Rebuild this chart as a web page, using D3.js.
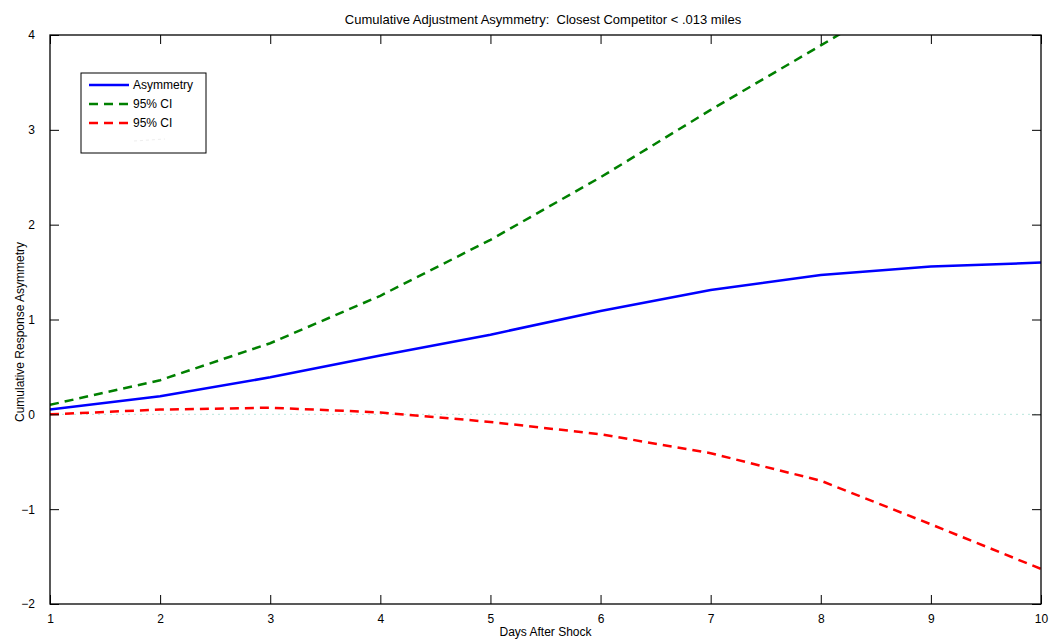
<!DOCTYPE html>
<html>
<head>
<meta charset="utf-8">
<script src="https://cdn.jsdelivr.net/npm/d3@7"></script>
<style>
  body { margin: 0; background: #fff; }
  svg { font-family: "Liberation Sans", Arial, sans-serif; }
  .tick text { font-size: 12px; fill: #000; }
</style>
</head>
<body>
<svg id="chart" width="1051" height="639"></svg>
<script>
// days after shock
const days = [1, 2, 3, 4, 5, 6, 7, 8, 9, 10];
// cumulative asymmetry estimate
const asymmetry = [0.05, 0.19, 0.39, 0.62, 0.84, 1.09, 1.31, 1.47, 1.56, 1.60];
// upper 95% band (runs off the top after day 8)
const ciUpper = [0.10, 0.36, 0.75, 1.25, 1.84, 2.50, 3.21, 3.89, 4.58, 5.28];
// lower 95% band
const ciLower = [0.00, 0.05, 0.07, 0.02, -0.08, -0.21, -0.41, -0.70, -1.16, -1.63];
const yTicks = [-2, -1, 0, 1, 2, 3, 4];

const svg = d3.select('#chart');
const m = { left: 50, right: 1041, top: 35, bottom: 604 };

const x = d3.scaleLinear().domain([1, 10]).range([m.left, m.right]);
const y = d3.scaleLinear().domain([-2, 4]).range([m.bottom, m.top]);

const fmt = d => d < 0 ? '\u2212' + Math.abs(d) : String(d);

// clip for lines
svg.append('clipPath').attr('id', 'plotclip')
  .append('rect')
  .attr('x', m.left).attr('y', m.top)
  .attr('width', m.right - m.left).attr('height', m.bottom - m.top);

// zero reference line
svg.append('line')
  .attr('x1', x(1)).attr('x2', x(10))
  .attr('y1', y(0)).attr('y2', y(0))
  .attr('stroke', '#b8e6dc').attr('stroke-width', 1)
  .attr('stroke-dasharray', '2,4');

const line = d3.line().x((d, i) => x(days[i])).y(d => y(d));

const series = [
  { name: 'Asymmetry', values: asymmetry, color: '#0000ff', dash: null },
  { name: '95% CI', values: ciUpper, color: '#008000', dash: '9,6' },
  { name: '95% CI', values: ciLower, color: '#ff0000', dash: '9,6' }
];

const g = svg.append('g').attr('clip-path', 'url(#plotclip)');
series.forEach(s => {
  g.append('path')
    .datum(s.values)
    .attr('d', line)
    .attr('fill', 'none')
    .attr('stroke', s.color)
    .attr('stroke-width', 2.5)
    .attr('stroke-dasharray', s.dash);
});

// axes, ticks inward on all four sides
const tickLen = 9;
const bottomAxis = d3.axisBottom(x).tickValues(days).tickSize(-tickLen).tickPadding(tickLen + 3).tickFormat(d => d);
const topAxis = d3.axisTop(x).tickValues(days).tickSize(-tickLen).tickFormat('');
const leftAxis = d3.axisLeft(y).tickValues(yTicks).tickSize(-tickLen).tickPadding(tickLen + 6).tickFormat(fmt);
const rightAxis = d3.axisRight(y).tickValues(yTicks).tickSize(-tickLen).tickFormat('');

function styleAxis(sel) {
  sel.select('.domain').remove();
  sel.selectAll('.tick line').attr('stroke', '#000');
}

svg.append('g').attr('transform', `translate(0,${m.bottom})`).call(bottomAxis).call(styleAxis)
  .selectAll('.tick text').attr('dy', '0.55em');
svg.append('g').attr('transform', `translate(0,${m.top})`).call(topAxis).call(styleAxis);
svg.append('g').attr('transform', `translate(${m.left},0)`).call(leftAxis).call(styleAxis);
svg.append('g').attr('transform', `translate(${m.right},0)`).call(rightAxis).call(styleAxis);

// box
svg.append('rect')
  .attr('x', m.left).attr('y', m.top)
  .attr('width', m.right - m.left).attr('height', m.bottom - m.top)
  .attr('fill', 'none').attr('stroke', '#000').attr('stroke-width', 1.3);

// title and labels
svg.append('text')
  .attr('x', 543).attr('y', 24)
  .attr('text-anchor', 'middle').attr('font-size', 13)
  .attr('xml:space', 'preserve')
  .text('Cumulative Adjustment Asymmetry:  Closest Competitor < .013 miles');

svg.append('text')
  .attr('x', (m.left + m.right) / 2).attr('y', 636)
  .attr('text-anchor', 'middle').attr('font-size', 12)
  .text('Days After Shock');

svg.append('text')
  .attr('transform', 'translate(24,332) rotate(-90)')
  .attr('text-anchor', 'middle').attr('font-size', 12)
  .text('Cumulative Response Asymmetry');

// legend
const lg = svg.append('g').attr('transform', 'translate(81,73)');
lg.append('rect').attr('width', 125).attr('height', 80)
  .attr('fill', '#fff').attr('stroke', '#000').attr('stroke-width', 1);
series.forEach((s, i) => {
  const yy = 12 + i * 19;
  lg.append('line')
    .attr('x1', 8).attr('x2', 48).attr('y1', yy).attr('y2', yy)
    .attr('stroke', s.color).attr('stroke-width', 2.5)
    .attr('stroke-dasharray', s.dash);
  lg.append('text')
    .attr('x', 52).attr('y', yy + 4)
    .attr('font-size', 12)
    .text(s.name);
});
// faint placeholder entry as in the original
lg.append('line')
  .attr('x1', 53).attr('x2', 84).attr('y1', 68).attr('y2', 66)
  .attr('stroke', '#eee').attr('stroke-width', 1).attr('stroke-dasharray', '3,3');
</script>
</body>
</html>
